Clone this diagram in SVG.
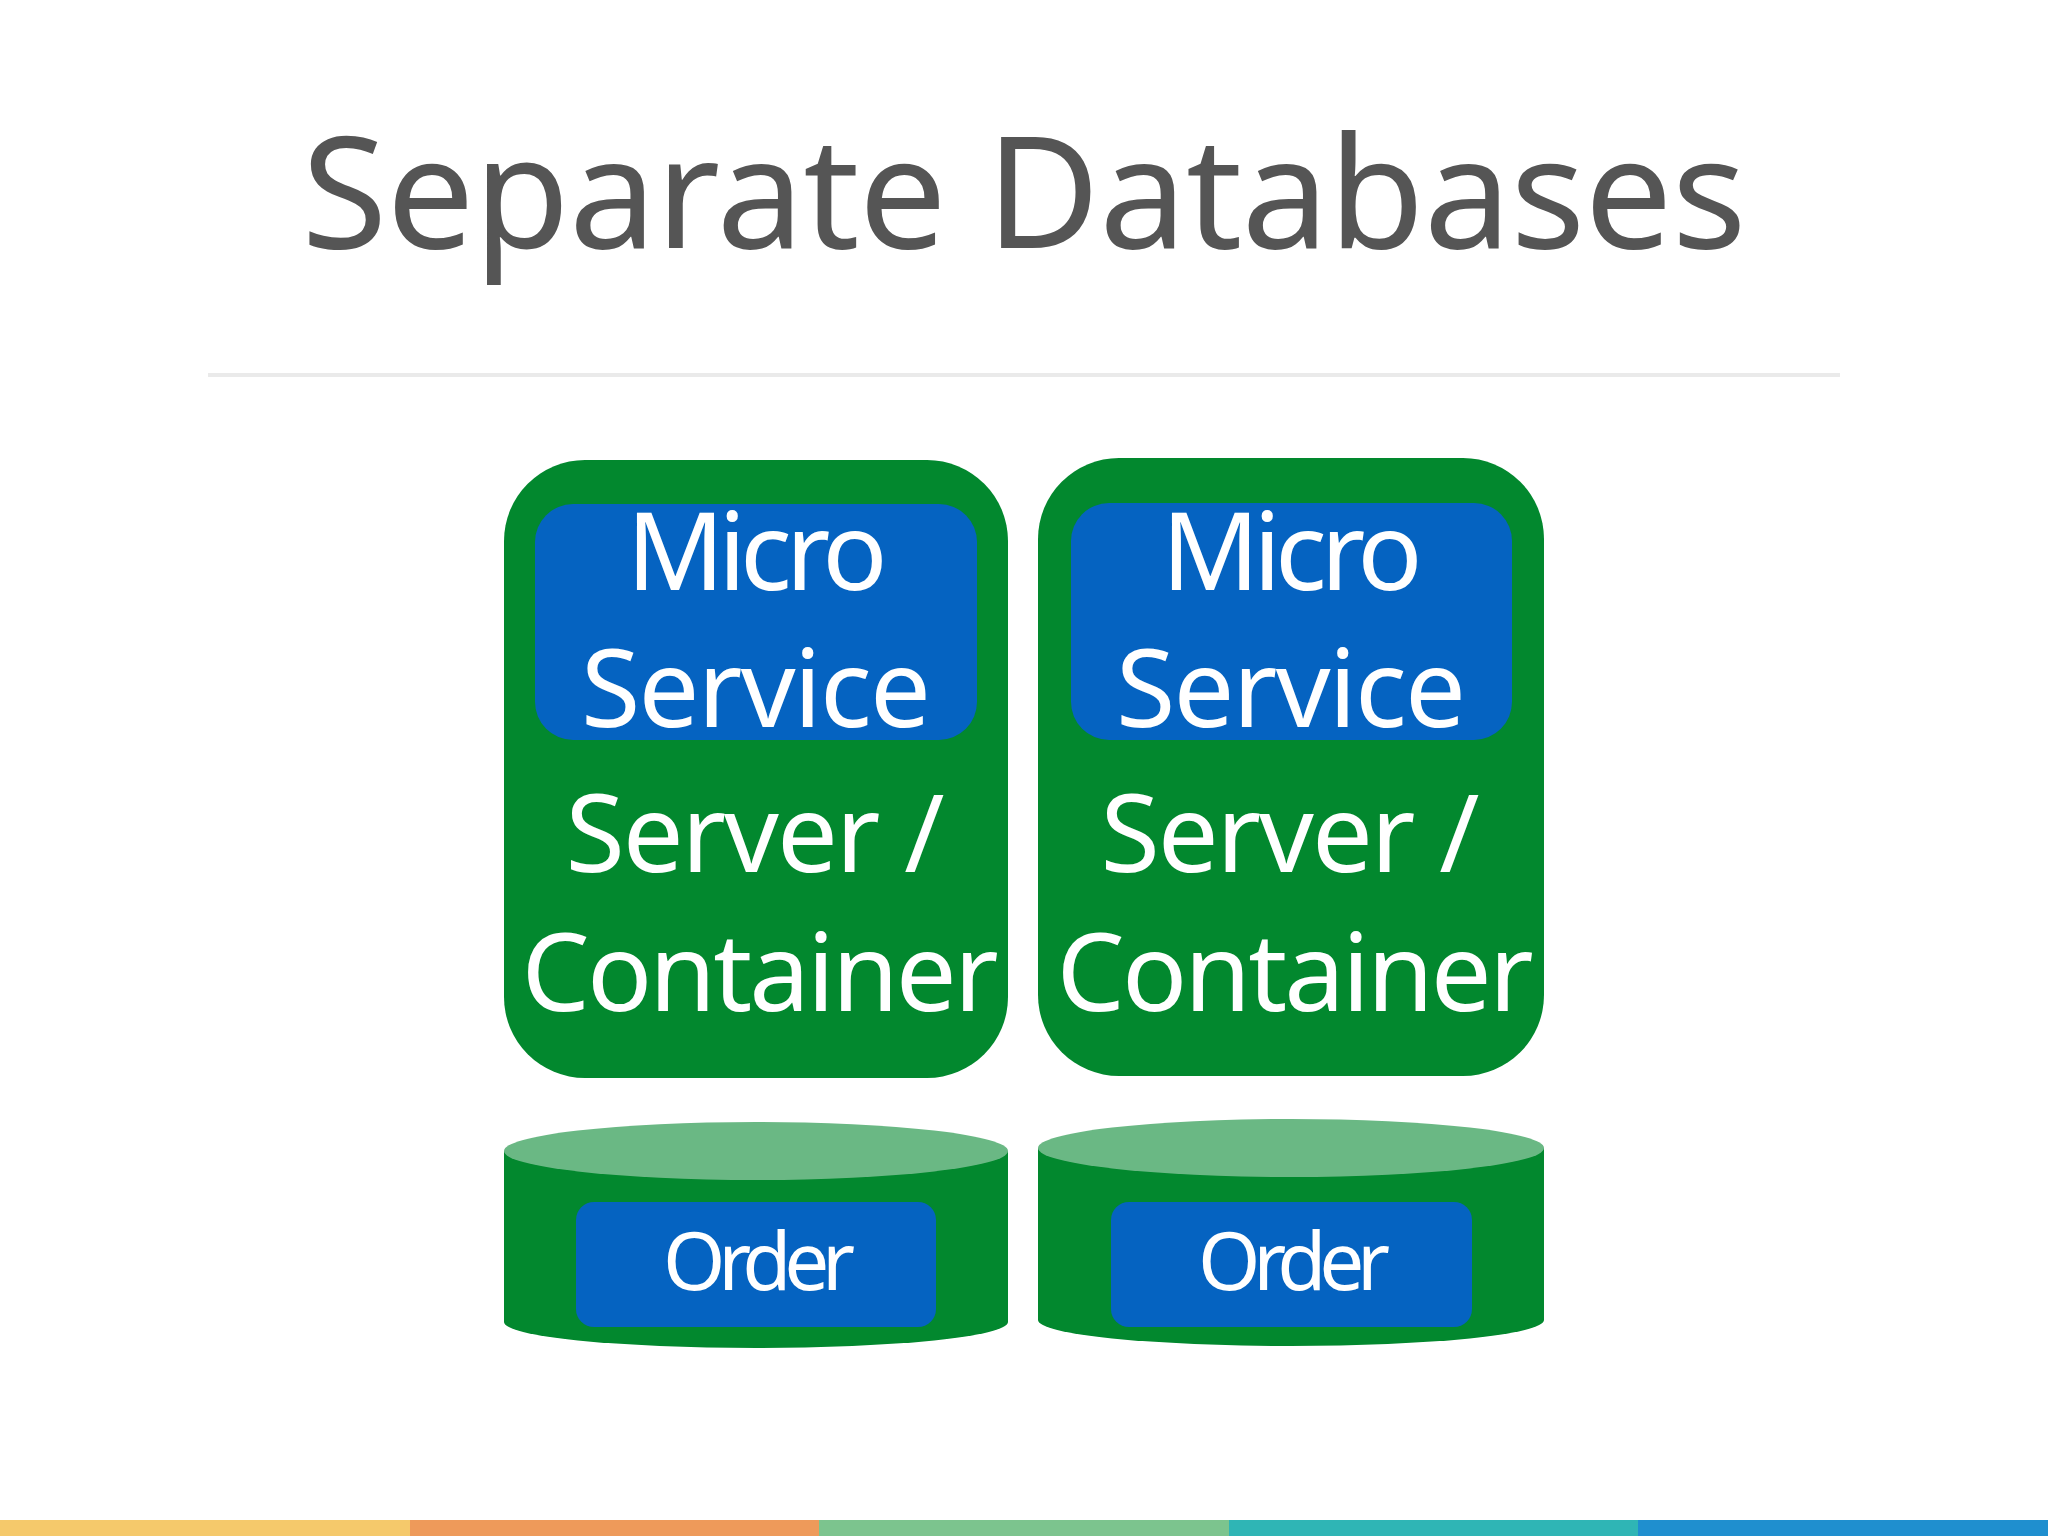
<svg xmlns="http://www.w3.org/2000/svg" width="2048" height="1536" viewBox="0 0 2048 1536">
<style>
.g{fill:#02882e}.b{fill:#0563c1}.t{font-family:"Noto Sans","Open Sans",sans-serif;fill:#fff;text-anchor:middle}
.big{font-size:108px}.sm{font-size:80px}
</style>
<rect width="2048" height="1536" fill="#fff"/>
<text x="1024" y="248" font-family="Noto Sans, Open Sans, sans-serif" font-size="156" fill="#555" text-anchor="middle" textLength="1445" lengthAdjust="spacing">Separate Databases</text>
<line x1="208" y1="375" x2="1840" y2="375" stroke="#eaeaea" stroke-width="4"/>
<g id="server1">
<rect class="g" x="504" y="460" width="504" height="618" rx="81"/>
<rect class="b" x="535" y="504" width="442" height="236" rx="38"/>
<text class="t big" x="757" y="590" textLength="261" lengthAdjust="spacing">Micro</text>
<text class="t big" x="756" y="727" textLength="350" lengthAdjust="spacing">Service</text>
<text class="t big" x="755" y="872" textLength="379" lengthAdjust="spacing">Server /</text>
<text class="t big" x="760" y="1011" textLength="477" lengthAdjust="spacing">Container</text>
</g>
<g id="server2">
<rect class="g" x="1038" y="458" width="506" height="618" rx="81"/>
<rect class="b" x="1071" y="503" width="441" height="237" rx="38"/>
<text class="t big" x="1292" y="590" textLength="261" lengthAdjust="spacing">Micro</text>
<text class="t big" x="1291" y="727" textLength="350" lengthAdjust="spacing">Service</text>
<text class="t big" x="1290" y="872" textLength="379" lengthAdjust="spacing">Server /</text>
<text class="t big" x="1295" y="1011" textLength="477" lengthAdjust="spacing">Container</text>
</g>
<g id="db1">
<path class="g" d="M504 1151 L504 1322 A252 26 0 0 0 1008 1322 L1008 1151 Z"/>
<ellipse cx="756" cy="1151" rx="252" ry="29" fill="#6ab884"/>
<rect class="b" x="576" y="1202" width="360" height="125" rx="18"/>
<text class="t sm" x="759" y="1290" textLength="192" lengthAdjust="spacing">Order</text>
</g>
<g id="db2">
<path class="g" d="M1038 1148 L1038 1320 A253 26 0 0 0 1544 1320 L1544 1148 Z"/>
<ellipse cx="1291" cy="1148" rx="253" ry="29" fill="#6ab884"/>
<rect class="b" x="1111" y="1202" width="361" height="125" rx="18"/>
<text class="t sm" x="1294" y="1290" textLength="192" lengthAdjust="spacing">Order</text>
</g>
<g id="connectors"/>
<rect x="0" y="1520" width="410" height="16" fill="#f5c96b"/>
<rect x="410" y="1520" width="410" height="16" fill="#ee9a5a"/>
<rect x="819" y="1520" width="410" height="16" fill="#7cc48e"/>
<rect x="1229" y="1520" width="410" height="16" fill="#2fb5b5"/>
<rect x="1638" y="1520" width="410" height="16" fill="#1f8fcf"/>
</svg>
